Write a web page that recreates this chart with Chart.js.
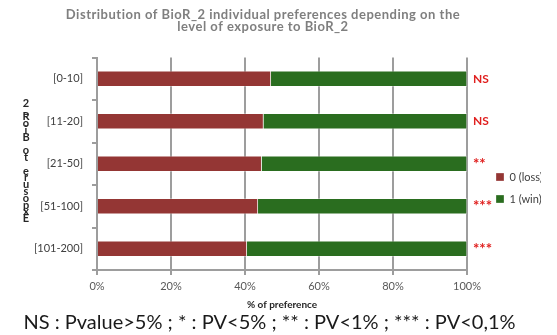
<!DOCTYPE html>
<html>
<head>
<meta charset="utf-8">
<script src="https://cdn.jsdelivr.net/npm/chart.js@4.4.1/dist/chart.umd.min.js"></script>
<style>
  html, body { margin: 0; padding: 0; background: #ffffff; }
  #wrap { width: 557px; height: 335px; position: relative; }
</style>
</head>
<body>
<div id="wrap"><canvas id="chart" width="557" height="335"></canvas></div>
<script>
// Exposure classes (number of exposures to BioR_2)
const categories = ['[0-10]', '[11-20]', '[21-50]', '[51-100]', '[101-200]'];
// Share of individual preferences, in %
const lossPct = [47, 45, 44.5, 43.5, 40.5];   // 0 (loss)
const winPct  = [53, 55, 55.5, 56.5, 59.5];   // 1 (win)
// Significance of each class
const significance = ['NS', 'NS', '**', '***', '***'];
const seriesNames = ['0 (loss)', '1 (win)'];
const titleLines = ['Distribution of BioR_2 individual preferences depending on the', 'level of exposure to BioR_2'];
const yTitle = 'Exposure to BioR_2';
const xTitle = '% of preference';
const caption = 'NS : Pvalue>5% ; * : PV<5% ; ** : PV<1% ; *** : PV<0,1%';

const FONT = 'Lato, "Open Sans", sans-serif';
const GRID = '#9d9d9d';
const sigSize = s => (s === 'NS' ? 12 : 15);

// Width of the widest significance label, so the mirrored labels start 6px right of the plot
const measureCtx = document.createElement('canvas').getContext('2d');
const sigWidest = Math.max(...significance.map(s => {
  measureCtx.font = 'bold ' + sigSize(s) + 'px ' + FONT;
  return measureCtx.measureText(s).width;
}));

// Extra texts: main title, stacked y title, footnote
const textPlugin = {
  id: 'texts',
  afterDraw(chart) {
    const ctx = chart.ctx;
    ctx.save();
    ctx.fillStyle = '#7f7f7f';
    ctx.font = 'bold 13px ' + FONT;
    ctx.letterSpacing = '0.5px';
    ctx.textAlign = 'center';
    ctx.textBaseline = 'alphabetic';
    ctx.fillText(titleLines[0], 263, 19);
    ctx.fillText(titleLines[1], 263, 31);
    ctx.letterSpacing = '0px';

    ctx.fillStyle = '#262626';
    ctx.font = 'bold 11px ' + FONT;
    ctx.textBaseline = 'middle';
    const chars = Array.from(yTitle).reverse();
    chars.forEach((c, i) => ctx.fillText(c, 26, 103 + i * 6.8));

    ctx.fillStyle = '#1a1a1a';
    ctx.font = '20px ' + FONT;
    ctx.textBaseline = 'alphabetic';
    ctx.fillText(caption, 269.5, 329);
    ctx.restore();
  }
};

new Chart(document.getElementById('chart'), {
  type: 'bar',
  data: {
    labels: categories,
    datasets: [
      { label: seriesNames[0], data: lossPct, backgroundColor: '#943634', borderColor: 'rgba(255,255,255,0.3)', borderWidth: 1, barThickness: 16 },
      { label: seriesNames[1], data: winPct, backgroundColor: '#2a6d1f', borderColor: 'rgba(255,255,255,0.3)', borderWidth: 1, barThickness: 16 }
    ]
  },
  options: {
    indexAxis: 'y',
    responsive: false,
    animation: false,
    devicePixelRatio: 1,
    layout: { padding: { top: 57.5, left: 0, right: 16, bottom: 16.5 } },
    scales: {
      x: {
        stacked: true,
        min: 0, max: 100,
        ticks: { stepSize: 20, callback: v => v + '%', color: '#595959', font: { family: FONT, size: 11 }, padding: 5 },
        grid: { color: GRID, lineWidth: 2, tickLength: 5 },
        border: { color: GRID, width: 2 },
        title: { display: true, text: xTitle, color: '#262626', font: { family: FONT, size: 10, weight: 'bold' }, padding: { top: 0, bottom: 7.5 } },
        afterFit(scale) { scale.height = 48.5; }
      },
      y: {
        stacked: true,
        ticks: { color: '#404040', font: { family: FONT, size: 11 }, padding: 9 },
        grid: { drawOnChartArea: false, color: GRID, lineWidth: 2, tickLength: 5, offset: true },
        border: { color: GRID, width: 2 },
        afterFit(scale) { scale.width = 97; }
      },
      sig: {
        type: 'category',
        labels: significance,
        position: 'right',
        offset: true,
        grid: { display: false, drawTicks: false },
        border: { display: false },
        ticks: {
          color: '#e0201f',
          font: c => ({ family: FONT, size: sigSize(significance[c.index]), weight: 'bold' }),
          mirror: true, crossAlign: 'far', padding: 6 + sigWidest
        },
        afterFit(scale) { scale.width = 18; }
      }
    },
    plugins: {
      legend: {
        position: 'right',
        maxWidth: 56,
        labels: { boxWidth: 8, boxHeight: 8, padding: 11, color: '#404040', font: { family: FONT, size: 11 } }
      },
      title: { display: false },
      tooltip: { enabled: false }
    }
  },
  plugins: [textPlugin]
});
</script>
</body>
</html>
